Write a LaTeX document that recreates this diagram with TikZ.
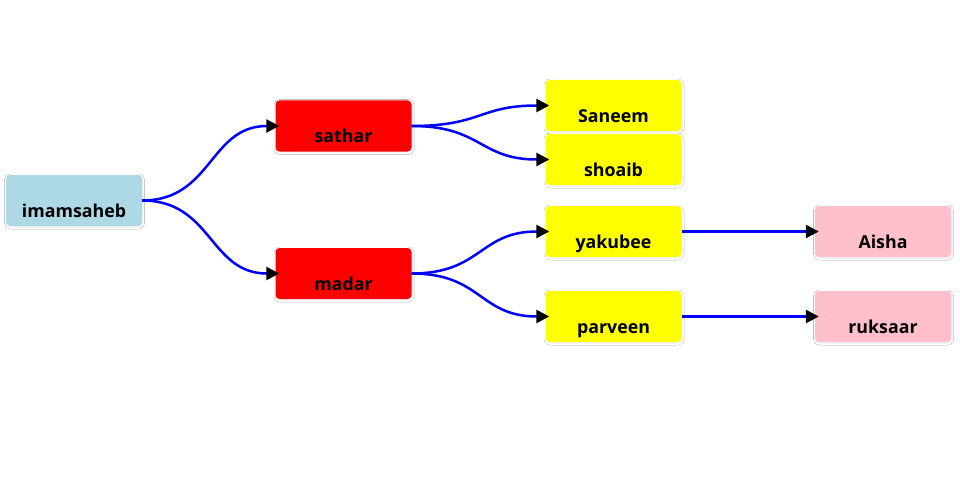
\documentclass[tikz,border=0pt]{standalone}
\usepackage{fontspec}
\setmainfont{Open Sans}
\usetikzlibrary{arrows.meta,shadows.blur}
\definecolor{boxblue}{HTML}{ADD8E6}
\definecolor{boxred}{HTML}{FF0000}
\definecolor{boxyellow}{HTML}{FFFF00}
\definecolor{boxpink}{HTML}{FFC0CB}
\definecolor{linkblue}{HTML}{0000FF}
\tikzset{
  person/.style={rounded corners=4pt, inner sep=0pt, minimum width=136pt,
    text height=42pt, text depth=9pt, font=\fontsize{17.8}{18}\selectfont\bfseries,
    blur shadow={shadow xshift=0.5pt, shadow yshift=-1pt, shadow blur steps=8,
      shadow blur radius=2pt, shadow opacity=9}},
  link/.style={draw=linkblue, line width=2.5pt,
    -{Triangle[length=13pt,width=13pt,fill=black,color=black]}},
}
\begin{document}
\begin{tikzpicture}[x=1pt,y=-1pt]
\useasboundingbox (0,0) rectangle (960,500);
\fill[white] (0,0) rectangle (960,500);
\node[person, fill=boxblue]   (imam) at (74,200.5)  {imamsaheb};
\node[person, fill=boxred]    (sathar) at (343.5,126) {sathar};
\node[person, fill=boxred]    (madar) at (343.5,273.5) {madar};
\node[person, fill=boxyellow] (saneem) at (613.5,105.5) {Saneem};
\node[person, fill=boxyellow] (shoaib) at (613.5,159.5) {shoaib};
\node[person, fill=boxyellow] (yakubee) at (613.5,231.5) {yakubee};
\node[person, fill=boxyellow] (parveen) at (613.5,316.5) {parveen};
\node[person, fill=boxpink]   (aisha) at (883,231.5) {Aisha};
\node[person, fill=boxpink]   (ruksaar) at (883,316.5) {ruksaar};

\draw[link] (imam.east) .. controls +(70,0) and +(-70,0) .. ([xshift=4pt]sathar.west);
\draw[link] (imam.east) .. controls +(70,0) and +(-70,0) .. ([xshift=4pt]madar.west);
\draw[link] (sathar.east) .. controls +(70,0) and +(-70,0) .. ([xshift=4pt]saneem.west);
\draw[link] (sathar.east) .. controls +(70,0) and +(-70,0) .. ([xshift=4pt]shoaib.west);
\draw[link] (madar.east) .. controls +(70,0) and +(-70,0) .. ([xshift=4pt]yakubee.west);
\draw[link] (madar.east) .. controls +(70,0) and +(-70,0) .. ([xshift=4pt]parveen.west);
\draw[link] (yakubee.east) -- ([xshift=4pt]aisha.west);
\draw[link] (parveen.east) -- ([xshift=4pt]ruksaar.west);
\end{tikzpicture}
\end{document}
